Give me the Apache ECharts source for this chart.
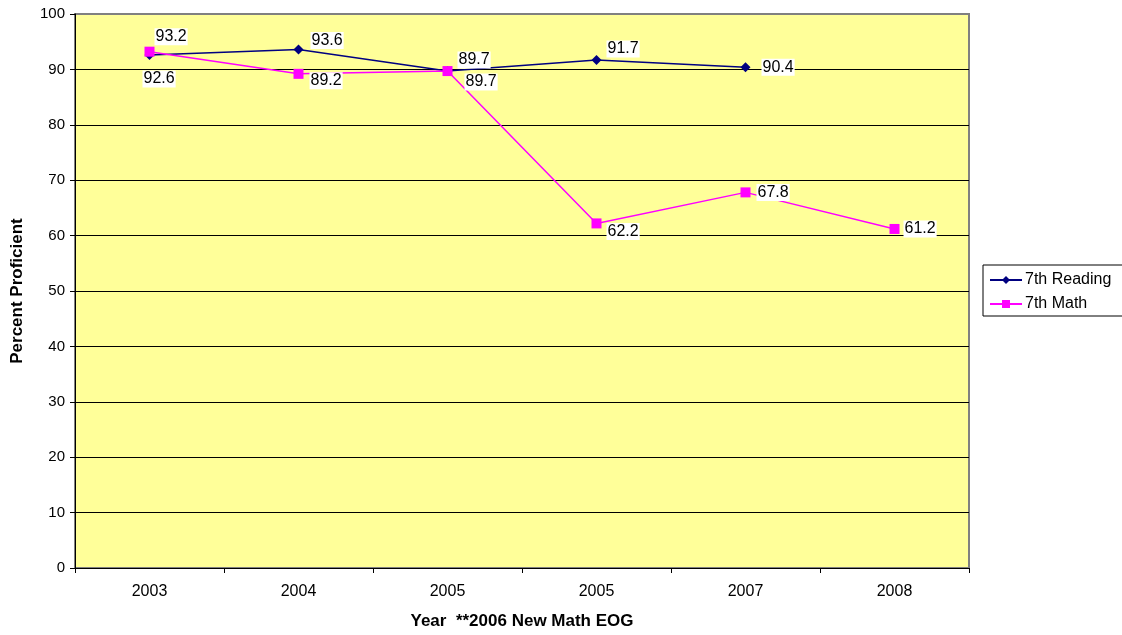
<!DOCTYPE html>
<html>
<head>
<meta charset="utf-8">
<script src="https://cdn.jsdelivr.net/npm/echarts@6/dist/echarts.min.js"></script>
<style>
  html, body { margin: 0; padding: 0; background: #fff; }
  #chart { width: 1122px; height: 635px; }
</style>
</head>
<body>
<div id="chart"></div>
<script>
  var years = ['2003', '2004', '2005', '2005', '2007', '2008']
  var reading = [92.6, 93.6, 89.7, 91.7, 90.4, null]
  var math = [93.2, 89.2, 89.7, 62.2, 67.8, 61.2]
  var yTicks = [0, 10, 20, 30, 40, 50, 60, 70, 80, 90, 100]

  // label nudges so they sit where the original put them
  var readingOffsets = [[-12, 24], [7, -9], [5, -11], [5, -11], [11, 0], [0, 0]]
  var mathOffsets = [[0, -15], [6, 7], [12, 11], [5, 8], [6, 0], [4, 0]]

  var font = 'Liberation Sans, Arial, sans-serif'

  function points (values, offsets) {
    return values.map(function (v, i) {
      return {
        value: v,
        label: { offset: offsets[i] }
      }
    })
  }

  var labelStyle = {
    show: true,
    position: 'right',
    distance: 0,
    color: '#000',
    fontSize: 16,
    fontFamily: font,
    backgroundColor: '#fff',
    padding: [1, 1, 0, 1]
  }

  var myChart = echarts.init(document.getElementById('chart'))
  myChart.setOption({
    animation: false,
    textStyle: { fontFamily: font },
    grid: {
      left: 75,
      right: 153,
      top: 14,
      bottom: 67,
      show: true,
      backgroundColor: '#FFFF99',
      borderColor: '#808080',
      borderWidth: 2
    },
    legend: {
      orient: 'vertical',
      left: 983,
      top: 265,
      itemWidth: 32,
      itemHeight: 10,
      itemGap: 8,
      padding: [7, 30, 4, 6],
      borderColor: '#000',
      borderWidth: 1,
      backgroundColor: '#fff',
      textStyle: { fontSize: 16, color: '#000', fontFamily: font, padding: [0, 0, 0, -2] },
      data: ['7th Reading', '7th Math']
    },
    xAxis: {
      type: 'category',
      data: years,
      boundaryGap: true,
      name: 'Year  **2006 New Math EOG',
      nameLocation: 'middle',
      nameGap: 45,
      nameTextStyle: { fontSize: 17, fontWeight: 'bold', color: '#000' },
      axisLine: { lineStyle: { color: '#000', width: 1 } },
      axisTick: { show: true, length: 5, lineStyle: { color: '#000' } },
      axisLabel: { fontSize: 16, color: '#000', margin: 16 },
      splitLine: { show: false }
    },
    yAxis: {
      type: 'value',
      min: yTicks[0],
      max: yTicks[yTicks.length - 1],
      interval: 10,
      name: 'Percent Proficient',
      nameLocation: 'middle',
      nameGap: 49,
      nameRotate: 90,
      nameTextStyle: { fontSize: 17, fontWeight: 'bold', color: '#000' },
      axisLine: { show: true, lineStyle: { color: '#000', width: 1 } },
      axisTick: { show: true, length: 5, lineStyle: { color: '#000' } },
      axisLabel: { fontSize: 15, color: '#000', margin: 10 },
      splitLine: { show: true, showMaxLine: false, lineStyle: { color: '#000', width: 1 } }
    },
    series: [
      {
        name: '7th Reading',
        type: 'line',
        data: points(reading, readingOffsets),
        symbol: 'diamond',
        symbolSize: 10,
        showAllSymbol: true,
        itemStyle: { color: '#000080' },
        lineStyle: { color: '#000080', width: 1.5 },
        label: labelStyle,
        z: 3
      },
      {
        name: '7th Math',
        type: 'line',
        data: points(math, mathOffsets),
        symbol: 'rect',
        symbolSize: 10,
        showAllSymbol: true,
        itemStyle: { color: '#FF00FF' },
        lineStyle: { color: '#FF00FF', width: 1.5 },
        label: labelStyle,
        z: 4
      }
    ]
  })
</script>
</body>
</html>
